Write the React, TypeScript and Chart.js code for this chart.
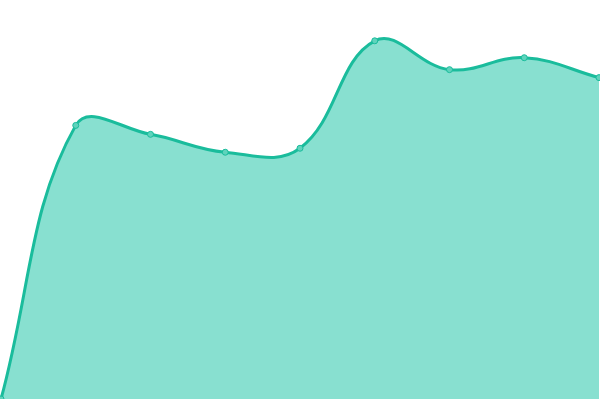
import Chart from "chart.js/auto";
import { useEffect, useRef } from "react";

const labels = ["1", "2", "3", "4", "5", "6", "7", "8", "9"];
const values = [0, 275, 266, 248, 252, 360, 331, 343, 323];

export default function App() {
  const canvasRef = useRef<HTMLCanvasElement>(null);

  useEffect(() => {
    document.body.style.margin = "0";
    if (!canvasRef.current) return;

    // chart.js insets the chart area by the point size (4px), so the canvas is
    // 8px bigger and shifted, to let the area fill the 600x400 view
    const chart = new Chart(canvasRef.current, {
      type: "line",
      data: {
        labels,
        datasets: [
          {
            data: values,
            fill: true,
            backgroundColor: "#88E0D0",
            borderColor: "#1ABC9C",
            borderWidth: 3,
            tension: 0.4,
            pointRadius: 3,
            pointBackgroundColor: "#5FD3BC",
            pointBorderColor: "#1ABC9C",
            pointBorderWidth: 1,
          },
        ],
      },
      options: {
        responsive: false,
        animation: false,
        layout: { padding: 0 },
        plugins: {
          legend: { display: false },
          tooltip: { enabled: false },
        },
        scales: {
          x: { display: false },
          y: { display: false, min: 0, max: 400 },
        },
      },
    });

    return () => {
      chart.destroy();
    };
  }, []);

  return (
    <div style={{ width: 600, height: 400, overflow: "hidden", position: "relative" }}>
      <canvas
        ref={canvasRef}
        width={608}
        height={408}
        style={{ position: "absolute", left: -4, top: -4 }}
      ></canvas>
    </div>
  );
}
